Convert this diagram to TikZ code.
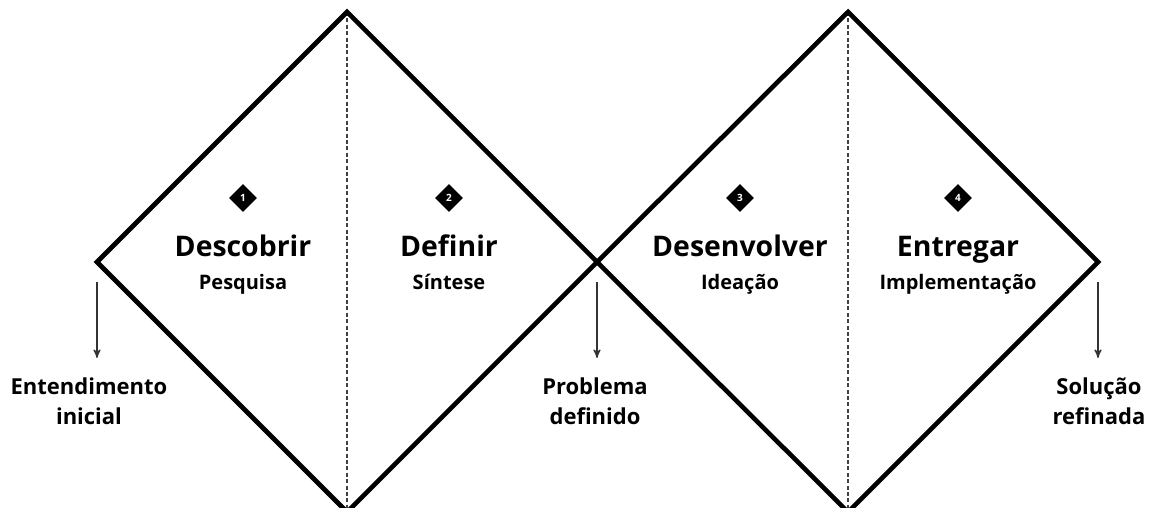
\documentclass[tikz,border=0pt]{standalone}
\usepackage{fontspec}
\setmainfont{Open Sans}
\usetikzlibrary{arrows, shapes.geometric, positioning}

\begin{document}
\begin{tikzpicture}[
    x=0.5pt,
    y=-0.5pt,
    >=stealth',
    node distance=25.5pt,
    badge/.style={diamond, fill=black, inner sep=0pt, minimum size=14pt,
        text=white, font=\fontsize{5}{5}\selectfont\bfseries},
    phase/.style={font=\fontsize{14.2}{14.2}\selectfont\bfseries, inner sep=0pt,
        text height=10.5pt, text depth=3pt},
    activity/.style={font=\fontsize{10}{10}\selectfont\bfseries, inner sep=0pt,
        text height=7.5pt, text depth=2.5pt},
    result/.style={align=center, font=\fontsize{11}{15}\selectfont\bfseries, inner sep=0pt},
    outline/.style={line width=2.3pt, line join=miter},
    split/.style={line width=0.7pt, dash pattern=on 2pt off 1.2pt, black!75}]
]
    \useasboundingbox (0,0) rectangle (1152,508);

    % corners of the two diamonds
    \coordinate (L1) at (97,262);
    \coordinate (T1) at (347,12);
    \coordinate (M)  at (597,262);
    \coordinate (B1) at (347,512);
    \coordinate (T2) at (848,12);
    \coordinate (R2) at (1098,262);
    \coordinate (B2) at (848,512);

    \draw[split] (T1) -- (B1);
    \draw[split] (T2) -- (B2);
    \draw[outline] (L1) -- (T1) -- (M) -- (B1) -- cycle;
    \draw[outline] (M) -- (T2) -- (R2) -- (B2) -- cycle;

    % phases
    \node[badge] (n1) at (243,198) {1};
    \node[badge] (n2) at (449,198) {2};
    \node[badge] (n3) at (740,198) {3};
    \node[badge] (n4) at (958,198) {4};

    \node[phase] (Descobrir)   [below of=n1] {Descobrir};
    \node[phase] (Definir)     [below of=n2] {Definir};
    \node[phase] (Desenvolver) [below of=n3] {Desenvolver};
    \node[phase] (Entregar)    [below of=n4] {Entregar};

    \node[activity] (Pesquisa)      [below of=Descobrir, node distance=17.5pt]   {Pesquisa};
    \node[activity] (Sintese)       [below of=Definir, node distance=17.5pt]     {Síntese};
    \node[activity] (Ideacao)       [below of=Desenvolver, node distance=17.5pt] {Ideação};
    \node[activity] (Implementacao) [below of=Entregar, node distance=17.5pt]    {Implementação};

    % results
    \coordinate (s1) at (97,282);
    \coordinate (s2) at (597,282);
    \coordinate (s3) at (1098,282);

    \node[result] (Inicial)   at (89,401)   {Entendimento\\inicial};
    \node[result] (Definido)  at (595,401)  {Problema\\definido};
    \node[result] (Refinada)  at (1099,401) {Solução\\refinada};

    \path[->, semithick, black!80]
    (s1) edge (s1 |- 0,358)
    (s2) edge (s2 |- 0,358)
    (s3) edge (s3 |- 0,358);
\end{tikzpicture}
\end{document}
